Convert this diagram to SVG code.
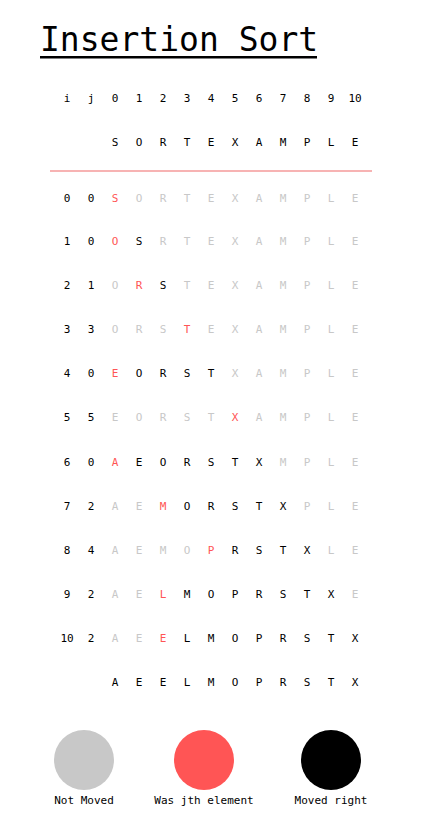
<svg xmlns="http://www.w3.org/2000/svg" width="422" height="838" viewBox="0 0 422 838">
<style>
text{font-family:"DejaVu Sans Mono","Liberation Mono",monospace;font-size:11px;text-anchor:middle}
.k{fill:#000}.g{fill:#c8c8c8}.r{fill:#ff5555}
.title{font-size:33px;text-anchor:start;fill:#000}
.lab{font-size:11px;fill:#000}
</style>
<rect width="422" height="838" fill="#fff"/>
<g id="title">
<text class="title" x="40" y="51">Insertion Sort</text>
<rect x="40" y="56" width="277" height="2.5" fill="#000"/>
</g>
<g id="header" class="k">
<text x="67" y="102">i</text><text x="91" y="102">j</text>
<text x="115" y="102">0</text><text x="139" y="102">1</text><text x="163" y="102">2</text><text x="187" y="102">3</text><text x="211" y="102">4</text><text x="235" y="102">5</text><text x="259" y="102">6</text><text x="283" y="102">7</text><text x="307" y="102">8</text><text x="331" y="102">9</text><text x="355" y="102">10</text>
</g>
<g id="input">
<text class="k" x="115" y="146">S</text><text class="k" x="139" y="146">O</text><text class="k" x="163" y="146">R</text><text class="k" x="187" y="146">T</text><text class="k" x="211" y="146">E</text><text class="k" x="235" y="146">X</text><text class="k" x="259" y="146">A</text><text class="k" x="283" y="146">M</text><text class="k" x="307" y="146">P</text><text class="k" x="331" y="146">L</text><text class="k" x="355" y="146">E</text>
</g>
<line x1="50" y1="171" x2="372" y2="171" stroke="#f49a9a" stroke-width="1.5"/>
<g id="row0">
<text class="k" x="67" y="202">0</text><text class="k" x="91" y="202">0</text>
<text class="r" x="115" y="202">S</text><text class="g" x="139" y="202">O</text><text class="g" x="163" y="202">R</text><text class="g" x="187" y="202">T</text><text class="g" x="211" y="202">E</text><text class="g" x="235" y="202">X</text><text class="g" x="259" y="202">A</text><text class="g" x="283" y="202">M</text><text class="g" x="307" y="202">P</text><text class="g" x="331" y="202">L</text><text class="g" x="355" y="202">E</text>
</g>
<g id="row1">
<text class="k" x="67" y="245">1</text><text class="k" x="91" y="245">0</text>
<text class="r" x="115" y="245">O</text><text class="k" x="139" y="245">S</text><text class="g" x="163" y="245">R</text><text class="g" x="187" y="245">T</text><text class="g" x="211" y="245">E</text><text class="g" x="235" y="245">X</text><text class="g" x="259" y="245">A</text><text class="g" x="283" y="245">M</text><text class="g" x="307" y="245">P</text><text class="g" x="331" y="245">L</text><text class="g" x="355" y="245">E</text>
</g>
<g id="row2">
<text class="k" x="67" y="289">2</text><text class="k" x="91" y="289">1</text>
<text class="g" x="115" y="289">O</text><text class="r" x="139" y="289">R</text><text class="k" x="163" y="289">S</text><text class="g" x="187" y="289">T</text><text class="g" x="211" y="289">E</text><text class="g" x="235" y="289">X</text><text class="g" x="259" y="289">A</text><text class="g" x="283" y="289">M</text><text class="g" x="307" y="289">P</text><text class="g" x="331" y="289">L</text><text class="g" x="355" y="289">E</text>
</g>
<g id="row3">
<text class="k" x="67" y="333">3</text><text class="k" x="91" y="333">3</text>
<text class="g" x="115" y="333">O</text><text class="g" x="139" y="333">R</text><text class="g" x="163" y="333">S</text><text class="r" x="187" y="333">T</text><text class="g" x="211" y="333">E</text><text class="g" x="235" y="333">X</text><text class="g" x="259" y="333">A</text><text class="g" x="283" y="333">M</text><text class="g" x="307" y="333">P</text><text class="g" x="331" y="333">L</text><text class="g" x="355" y="333">E</text>
</g>
<g id="row4">
<text class="k" x="67" y="377">4</text><text class="k" x="91" y="377">0</text>
<text class="r" x="115" y="377">E</text><text class="k" x="139" y="377">O</text><text class="k" x="163" y="377">R</text><text class="k" x="187" y="377">S</text><text class="k" x="211" y="377">T</text><text class="g" x="235" y="377">X</text><text class="g" x="259" y="377">A</text><text class="g" x="283" y="377">M</text><text class="g" x="307" y="377">P</text><text class="g" x="331" y="377">L</text><text class="g" x="355" y="377">E</text>
</g>
<g id="row5">
<text class="k" x="67" y="421">5</text><text class="k" x="91" y="421">5</text>
<text class="g" x="115" y="421">E</text><text class="g" x="139" y="421">O</text><text class="g" x="163" y="421">R</text><text class="g" x="187" y="421">S</text><text class="g" x="211" y="421">T</text><text class="r" x="235" y="421">X</text><text class="g" x="259" y="421">A</text><text class="g" x="283" y="421">M</text><text class="g" x="307" y="421">P</text><text class="g" x="331" y="421">L</text><text class="g" x="355" y="421">E</text>
</g>
<g id="row6">
<text class="k" x="67" y="466">6</text><text class="k" x="91" y="466">0</text>
<text class="r" x="115" y="466">A</text><text class="k" x="139" y="466">E</text><text class="k" x="163" y="466">O</text><text class="k" x="187" y="466">R</text><text class="k" x="211" y="466">S</text><text class="k" x="235" y="466">T</text><text class="k" x="259" y="466">X</text><text class="g" x="283" y="466">M</text><text class="g" x="307" y="466">P</text><text class="g" x="331" y="466">L</text><text class="g" x="355" y="466">E</text>
</g>
<g id="row7">
<text class="k" x="67" y="510">7</text><text class="k" x="91" y="510">2</text>
<text class="g" x="115" y="510">A</text><text class="g" x="139" y="510">E</text><text class="r" x="163" y="510">M</text><text class="k" x="187" y="510">O</text><text class="k" x="211" y="510">R</text><text class="k" x="235" y="510">S</text><text class="k" x="259" y="510">T</text><text class="k" x="283" y="510">X</text><text class="g" x="307" y="510">P</text><text class="g" x="331" y="510">L</text><text class="g" x="355" y="510">E</text>
</g>
<g id="row8">
<text class="k" x="67" y="554">8</text><text class="k" x="91" y="554">4</text>
<text class="g" x="115" y="554">A</text><text class="g" x="139" y="554">E</text><text class="g" x="163" y="554">M</text><text class="g" x="187" y="554">O</text><text class="r" x="211" y="554">P</text><text class="k" x="235" y="554">R</text><text class="k" x="259" y="554">S</text><text class="k" x="283" y="554">T</text><text class="k" x="307" y="554">X</text><text class="g" x="331" y="554">L</text><text class="g" x="355" y="554">E</text>
</g>
<g id="row9">
<text class="k" x="67" y="598">9</text><text class="k" x="91" y="598">2</text>
<text class="g" x="115" y="598">A</text><text class="g" x="139" y="598">E</text><text class="r" x="163" y="598">L</text><text class="k" x="187" y="598">M</text><text class="k" x="211" y="598">O</text><text class="k" x="235" y="598">P</text><text class="k" x="259" y="598">R</text><text class="k" x="283" y="598">S</text><text class="k" x="307" y="598">T</text><text class="k" x="331" y="598">X</text><text class="g" x="355" y="598">E</text>
</g>
<g id="row10">
<text class="k" x="67" y="642">10</text><text class="k" x="91" y="642">2</text>
<text class="g" x="115" y="642">A</text><text class="g" x="139" y="642">E</text><text class="r" x="163" y="642">E</text><text class="k" x="187" y="642">L</text><text class="k" x="211" y="642">M</text><text class="k" x="235" y="642">O</text><text class="k" x="259" y="642">P</text><text class="k" x="283" y="642">R</text><text class="k" x="307" y="642">S</text><text class="k" x="331" y="642">T</text><text class="k" x="355" y="642">X</text>
</g>
<g id="result" class="k">
<text x="115" y="686">A</text><text x="139" y="686">E</text><text x="163" y="686">E</text><text x="187" y="686">L</text><text x="211" y="686">M</text><text x="235" y="686">O</text><text x="259" y="686">P</text><text x="283" y="686">R</text><text x="307" y="686">S</text><text x="331" y="686">T</text><text x="355" y="686">X</text>
</g>
<g id="legend-not-moved">
<circle cx="84" cy="760" r="30" fill="#c8c8c8"/>
<text class="lab" x="84" y="804">Not Moved</text>
</g>
<g id="legend-jth">
<circle cx="204" cy="760" r="30" fill="#ff5555"/>
<text class="lab" x="204" y="804">Was jth element</text>
</g>
<g id="legend-moved-right">
<circle cx="331" cy="760" r="30" fill="#000"/>
<text class="lab" x="331" y="804">Moved right</text>
</g>
</svg>
